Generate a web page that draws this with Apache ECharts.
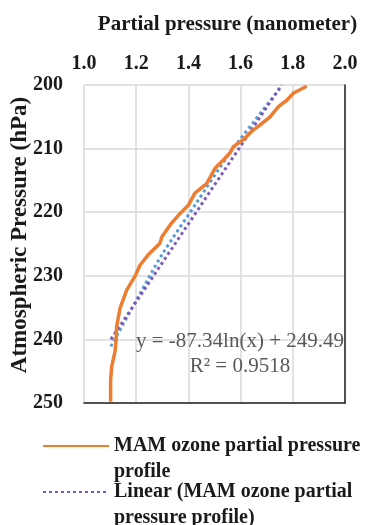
<!DOCTYPE html>
<html>
<head>
<meta charset="utf-8">
<script src="https://cdn.jsdelivr.net/npm/echarts@6/dist/echarts.min.js"></script>
<style>
  html, body { margin: 0; padding: 0; background: #fff; }
  #chart { width: 375px; height: 525px; }
</style>
</head>
<body>
<div id="chart"></div>
<script>
// MAM ozone profile
const pressureHpa = [200.2, 201.3, 202.4, 203.4, 205.0, 206.3, 207.3, 208.6, 209.7, 210.7,
  211.8, 213.1, 215.5, 217.0, 218.9, 220.2, 222.0, 223.9, 224.9, 226.7,
  228.3, 230.1, 232.2, 235.1, 238.0, 240.1, 241.9, 244.3, 246.4, 249.8];
const partialPressure = [1.853, 1.802, 1.777, 1.745, 1.713, 1.674, 1.642, 1.610, 1.572, 1.559,
  1.534, 1.502, 1.470, 1.425, 1.400, 1.368, 1.330, 1.298, 1.291, 1.246,
  1.215, 1.195, 1.164, 1.138, 1.125, 1.123, 1.119, 1.106, 1.102, 1.102];

// log trendline (blue dots)
const logTrendX = [1.103, 1.208, 1.300, 1.430, 1.550, 1.650, 1.750];
const logTrendY = [241.1, 233.3, 226.6, 218.6, 211.2, 205.8, 200.6];

// linear trendline (purple dots)
const linTrendX = [1.103, 1.757];
const linTrendY = [240.0, 200.0];

const xTicks = [1.0, 1.2, 1.4, 1.6, 1.8, 2.0];
const yTicks = [200, 210, 220, 230, 240, 250];

const seriesName = 'MAM ozone partial pressure profile';
const trendName = 'Linear (MAM ozone partial pressure profile)';
const equationText = 'y = -87.34ln(x) + 249.49\nR\u00b2 = 0.9518';

const serif = '"Liberation Serif", "Times New Roman", serif';
const gridColor = '#d9d9d9';

const pairs = (xs, ys) => xs.map((x, i) => [x, ys[i]]);

const chart = echarts.init(document.getElementById('chart'));

const legendText = {
  fontFamily: serif,
  fontWeight: 'bold',
  fontSize: 20,
  color: '#1a1a1a',
  lineHeight: 26
};

const option = {
  animation: false,
  grid: { left: 84, right: 30, top: 85, bottom: 122, outerBoundsMode: 'none', containLabel: false },
  xAxis: [
    {
      type: 'value',
      position: 'top',
      min: xTicks[0],
      max: xTicks[xTicks.length - 1],
      interval: 0.2,
      name: 'Partial pressure (nanometer)',
      nameLocation: 'middle',
      nameGap: 50,
      nameMoveOverlap: false,
      nameTextStyle: {
        fontFamily: serif, fontWeight: 'bold', fontSize: 21, color: '#1a1a1a',
        padding: [0, 0, 0, 26]
      },
      axisLine: { show: false },
      axisTick: { show: false },
      axisLabel: {
        margin: 11,
        fontFamily: serif,
        fontWeight: 'bold',
        fontSize: 20,
        color: '#1a1a1a',
        formatter: v => v.toFixed(1)
      },
      splitLine: { lineStyle: { color: gridColor, width: 1.5 } }
    },
    {
      type: 'value',
      position: 'bottom',
      min: xTicks[0],
      max: xTicks[xTicks.length - 1],
      axisLine: { show: true, lineStyle: { color: '#222', width: 1.5 } },
      axisTick: { show: false },
      axisLabel: { show: false },
      splitLine: { show: false }
    }
  ],
  yAxis: [
    {
      type: 'value',
      inverse: true,
      position: 'left',
      min: yTicks[0],
      max: yTicks[yTicks.length - 1],
      interval: 10,
      name: 'Atmospheric Pressure (hPa)',
      nameLocation: 'middle',
      nameGap: 52,
      nameMoveOverlap: false,
      nameTextStyle: {
        fontFamily: serif, fontWeight: 'bold', fontSize: 23, color: '#1a1a1a',
        padding: [0, 0, 0, 18]
      },
      axisLine: { show: false },
      axisTick: { show: false },
      axisLabel: {
        margin: 21,
        fontFamily: serif,
        fontWeight: 'bold',
        fontSize: 20,
        color: '#1a1a1a'
      },
      splitLine: { lineStyle: { color: gridColor, width: 1.5 } }
    },
    {
      type: 'value',
      inverse: true,
      position: 'right',
      min: yTicks[0],
      max: yTicks[yTicks.length - 1],
      axisLine: { show: true, lineStyle: { color: '#222', width: 1.5 } },
      axisTick: { show: false },
      axisLabel: { show: false },
      splitLine: { show: false }
    }
  ],
  legend: [
    {
      data: [seriesName],
      left: 42,
      top: 407,
      padding: 0,
      itemWidth: 66,
      itemHeight: 10,
      selectedMode: false,
      itemStyle: { opacity: 0 },
      textStyle: legendText,
      formatter: () => '\nMAM ozone partial pressure\nprofile'
    },
    {
      data: [trendName],
      left: 42,
      top: 453,
      padding: 0,
      itemWidth: 66,
      itemHeight: 10,
      selectedMode: false,
      itemStyle: { opacity: 0 },
      textStyle: legendText,
      formatter: () => '\nLinear (MAM ozone partial\npressure profile)'
    }
  ],
  graphic: [
    {
      type: 'text',
      x: 240,
      y: 354,
      z: 10,
      style: {
        text: equationText,
        fill: '#595959',
        font: '21px ' + serif,
        lineHeight: 25,
        align: 'center',
        verticalAlign: 'middle'
      }
    }
  ],
  series: [
    {
      name: seriesName,
      type: 'line',
      data: pairs(partialPressure, pressureHpa),
      symbol: 'none',
      lineStyle: { color: '#ED7D31', width: 3.5 },
      itemStyle: { color: '#ED7D31' },
      z: 3
    },
    {
      name: 'Log trend',
      type: 'line',
      data: pairs(logTrendX, logTrendY),
      symbol: 'none',
      smooth: 0.3,
      lineStyle: { color: '#5B9BD5', width: 3, type: [3, 3] },
      itemStyle: { color: '#5B9BD5' },
      z: 2
    },
    {
      name: trendName,
      type: 'line',
      data: pairs(linTrendX, linTrendY),
      symbol: 'none',
      lineStyle: { color: '#7F5BB8', width: 3, type: [3, 3] },
      itemStyle: { color: '#7F5BB8' },
      z: 2
    }
  ]
};

chart.setOption(option);
window.addEventListener('resize', () => chart.resize());
</script>
</body>
</html>
